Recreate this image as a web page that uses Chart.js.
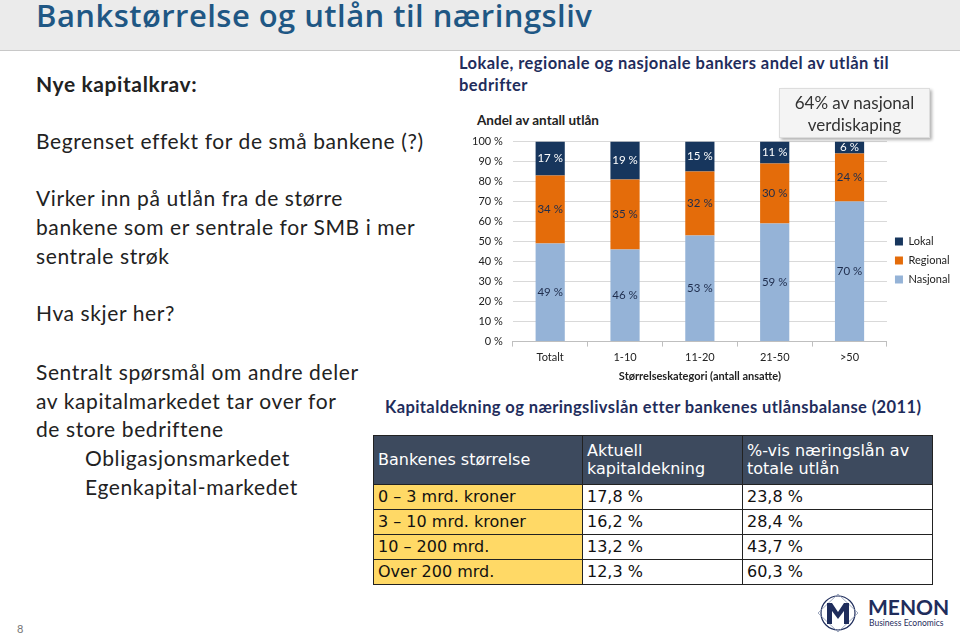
<!DOCTYPE html>
<html>
<head>
<meta charset="utf-8">
<script src="https://cdn.jsdelivr.net/npm/chart.js@4.4.1/dist/chart.umd.min.js"></script>
<style>
  html,body{margin:0;padding:0;}
  body{width:960px;height:641px;position:relative;overflow:hidden;background:#fff;font-family:Lato, "Open Sans", sans-serif;}
  .hdr{position:absolute;left:0;top:0;width:960px;height:50px;background:#ebebeb;border-bottom:1px solid #c8c8c8;}
  .title{position:absolute;left:36px;top:-6px;font-family:"Open Sans",sans-serif;font-size:31px;font-weight:600;color:#1f5784;white-space:nowrap;letter-spacing:0.45px;}
  .t{position:absolute;left:36px;font-size:21px;color:#222;white-space:nowrap;line-height:28px;letter-spacing:0.6px;}
  .sub{position:absolute;left:459px;top:52px;font-size:16.5px;font-weight:bold;color:#1f2d5c;line-height:22px;letter-spacing:0.45px;white-space:nowrap;}
  .ytitle{position:absolute;left:477px;top:112px;font-size:13.5px;font-weight:bold;color:#222;}
  .callout{position:absolute;left:779px;top:88px;width:151px;height:50px;background:#f4f4f4;border:1px solid #ddd;box-shadow:2px 2px 3px rgba(0,0,0,0.3);font-size:17px;color:#333;text-align:center;line-height:22px;padding-top:3px;box-sizing:border-box;}
  .ttl2{position:absolute;left:385px;top:397px;font-size:16.5px;font-weight:bold;color:#1f2d5c;white-space:nowrap;letter-spacing:0.4px;}
  table{position:absolute;left:373px;top:435px;border-collapse:collapse;font-family:"DejaVu Sans",sans-serif;font-size:16px;color:#111;}
  td{border:1.5px solid #222;padding:0 0 0 4px;line-height:18px;vertical-align:middle;white-space:nowrap;}
  tr.h td{background:#3d4a5e;color:#fff;height:48px;}
  tr.r td{height:24px;}
  tr.r td:first-child{background:#ffd966;}
  .pg{position:absolute;left:17px;top:622px;font-size:11px;color:#777;}
  .logo{position:absolute;left:816px;top:592px;}
  #wrap{position:absolute;left:455px;top:125px;width:505px;height:258px;}
</style>
</head>
<body>
<div class="hdr"></div>
<div class="title">Bankstørrelse og utlån til næringsliv</div>
<div class="t" style="top:70px;font-weight:bold;">Nye kapitalkrav:</div>
<div class="t" style="top:127px;">Begrenset effekt for de små bankene (?)</div>
<div class="t" style="top:184px;">Virker inn på utlån fra de større</div>
<div class="t" style="top:213px;">bankene som er sentrale for SMB i mer</div>
<div class="t" style="top:242px;">sentrale strøk</div>
<div class="t" style="top:299px;">Hva skjer her?</div>
<div class="t" style="top:358px;">Sentralt spørsmål om andre deler</div>
<div class="t" style="top:387px;">av kapitalmarkedet tar over for</div>
<div class="t" style="top:415px;">de store bedriftene</div>
<div class="t" style="top:444px;left:85px;">Obligasjonsmarkedet</div>
<div class="t" style="top:473px;left:85px;">Egenkapital-markedet</div>

<div class="sub">Lokale, regionale og nasjonale bankers andel av utlån til<br>bedrifter</div>
<div class="ytitle">Andel av antall utlån</div>
<div id="wrap"><canvas id="c"></canvas></div>
<div class="callout">64% av nasjonal<br>verdiskaping</div>

<div class="ttl2">Kapitaldekning og næringslivslån etter bankenes utlånsbalanse (2011)</div>
<table>
  <tr class="h"><td style="width:204px;">Bankenes størrelse</td><td style="width:155px;">Aktuell<br>kapitaldekning</td><td style="width:185px;">%-vis næringslån av<br>totale utlån</td></tr>
  <tr class="r"><td>0 – 3 mrd. kroner</td><td>17,8 %</td><td>23,8 %</td></tr>
  <tr class="r"><td>3 – 10 mrd. kroner</td><td>16,2 %</td><td>28,4 %</td></tr>
  <tr class="r"><td>10 – 200 mrd.</td><td>13,2 %</td><td>43,7 %</td></tr>
  <tr class="r"><td>Over 200 mrd.</td><td>12,3 %</td><td>60,3 %</td></tr>
</table>

<div class="pg">8</div>
<div class="logo">
  <svg width="140" height="42" viewBox="0 0 140 42">
    <circle cx="22" cy="21" r="17" fill="none" stroke="#1f2d5c" stroke-width="1.2"/>
    <polygon points="2,21 22,2 42,21 22,40" fill="none" stroke="#8894b0" stroke-width="0.8"/>
    <path d="M11 32 V11 H16 L22 20 L28 11 H33 V32 H28 V19 L22 27 L16 19 V32 Z" fill="#1f2d5c"/>
    <text x="52" y="23" font-family="Lato, sans-serif" font-weight="bold" font-size="21" fill="#1f2d5c">MENON</text>
    <text x="53" y="34" font-family="Lato, sans-serif" font-size="8.5" fill="#1f2d5c">Business Economics</text>
  </svg>
</div>

<script>
const categories = ['Totalt', '1-10', '11-20', '21-50', '>50'];
const nasjonal = [49, 46, 53, 59, 70];
const regional = [34, 35, 32, 30, 24];
const lokal = [17, 19, 15, 11, 6];
const yTicks = [0, 10, 20, 30, 40, 50, 60, 70, 80, 90, 100];
const xTitle = 'Størrelseskategori (antall ansatte)';

const labelColors = ['#1f2d4d', '#1f2d4d', '#ffffff'];

const segLabels = {
  id: 'segLabels',
  afterDatasetsDraw(chart) {
    const ctx = chart.ctx;
    ctx.save();
    ctx.font = '11.5px Lato, sans-serif';
    ctx.textAlign = 'center';
    ctx.textBaseline = 'middle';
    chart.data.datasets.forEach((ds, i) => {
      const meta = chart.getDatasetMeta(i);
      ctx.fillStyle = labelColors[i];
      meta.data.forEach((bar, j) => {
        const y = (bar.y + bar.base) / 2;
        ctx.fillText(ds.data[j] + ' %', bar.x, y);
      });
    });
    ctx.restore();
  }
};

new Chart(document.getElementById('c'), {
  type: 'bar',
  data: {
    labels: categories,
    datasets: [
      { label: 'Nasjonal', data: nasjonal, backgroundColor: '#95b3d7' },
      { label: 'Regional', data: regional, backgroundColor: '#e46c0a' },
      { label: 'Lokal', data: lokal, backgroundColor: '#17365d' }
    ]
  },
  options: {
    responsive: true,
    maintainAspectRatio: false,
    animation: false,
    layout: { padding: { left: 7, top: 13, right: 0, bottom: 0 } },
    datasets: { bar: { categoryPercentage: 1.0, barPercentage: 0.39 } },
    plugins: {
      legend: {
        position: 'right',
        reverse: true,
        labels: { boxWidth: 8, boxHeight: 8, padding: 8, color: '#222', font: { family: 'Lato', size: 11 } }
      },
      tooltip: { enabled: false }
    },
    scales: {
      x: {
        stacked: true,
        grid: { offset: true, drawOnChartArea: false, tickLength: 5, color: '#bfbfbf' },
        border: { color: '#bfbfbf' },
        ticks: { color: '#222', font: { family: 'Lato', size: 11 }, padding: 4 },
        title: { display: true, text: xTitle, color: '#222', font: { family: 'Lato', size: 11, weight: 'bold' }, padding: { top: 2, bottom: 0 } }
      },
      y: {
        stacked: true,
        min: 0, max: 100,
        afterBuildTicks(axis) { axis.ticks = yTicks.map(v => ({ value: v })); },
        grid: { color: '#d9d9d9', tickLength: 4, drawTicks: false },
        border: { display: false },
        ticks: { color: '#222', font: { family: 'Lato', size: 11 }, padding: 10, callback: v => v + ' %' }
      }
    }
  },
  plugins: [segLabels]
});
</script>
</body>
</html>
